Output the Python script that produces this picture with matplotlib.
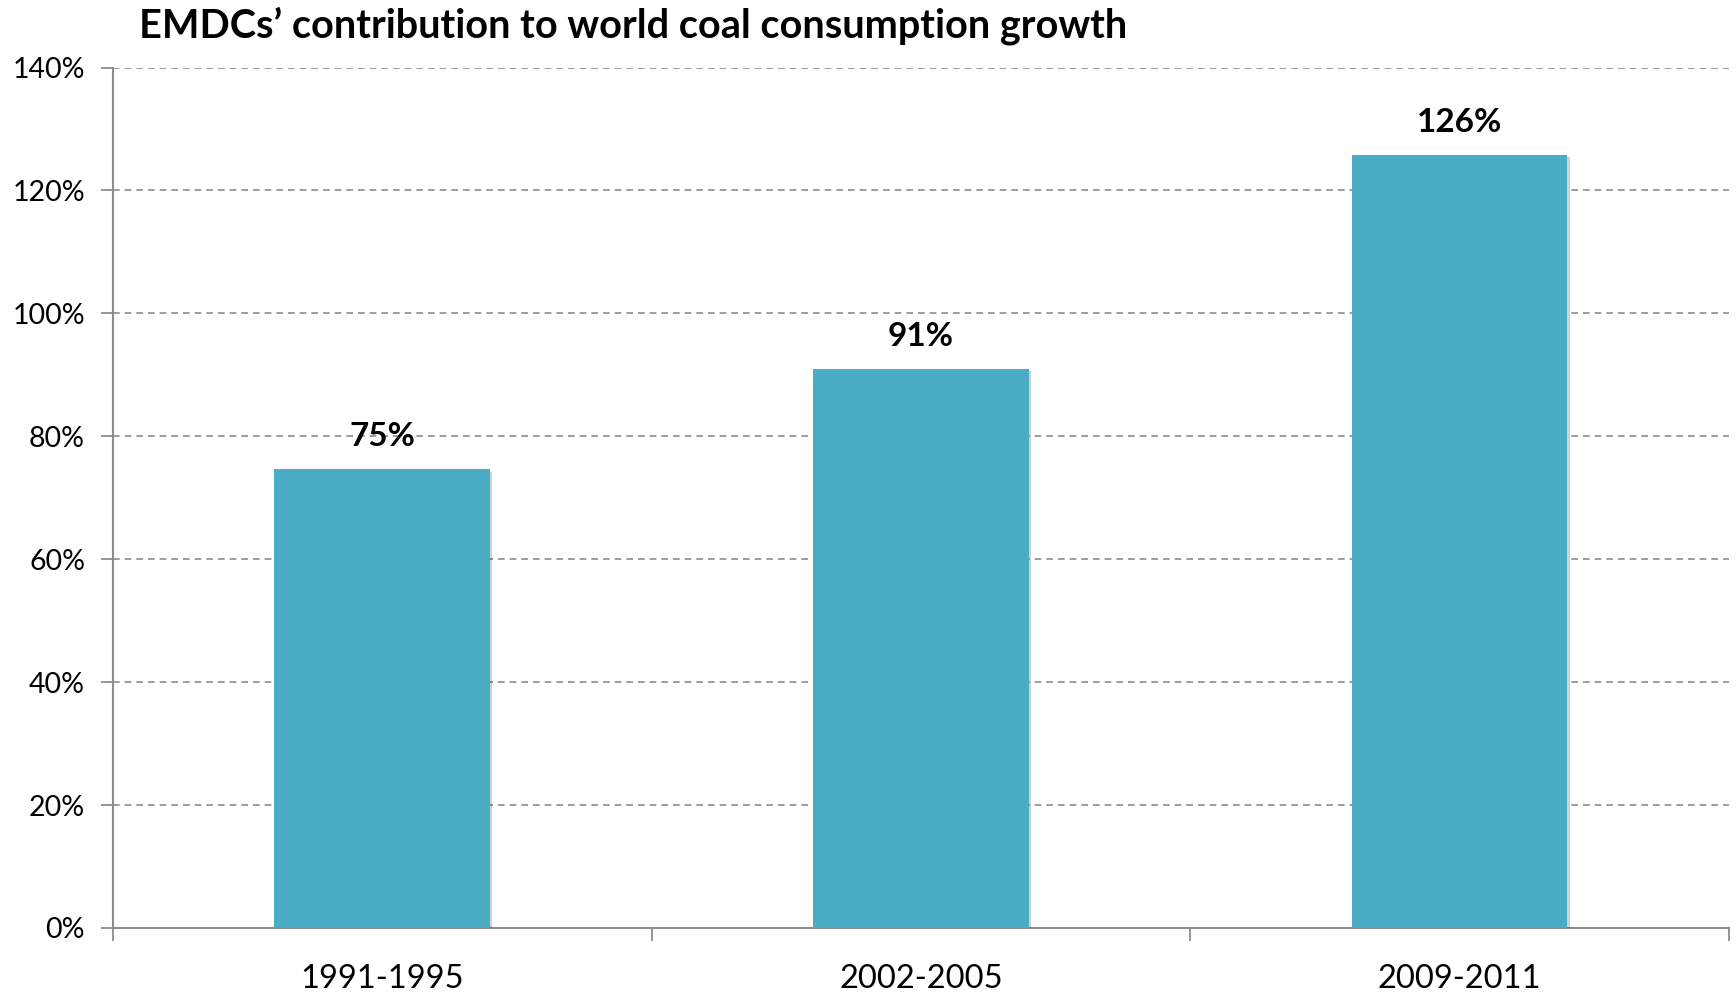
import numpy as np
import matplotlib.pyplot as plt
import matplotlib.patheffects as pe
from matplotlib.ticker import FuncFormatter, FixedLocator

plt.rcParams["font.family"] = ["Lato", "DejaVu Sans"]

periods = ["1991-1995", "2002-2005", "2009-2011"]
share = [74.6, 91.0, 125.7]  # EMDCs' share of world coal consumption growth, %
y_ticks = [0, 20, 40, 60, 80, 100, 120, 140]

bar_color = "#4BACC6"
axis_gray = "#8C8C8C"

fig = plt.figure(figsize=(17.36, 9.93), dpi=100)
ax = fig.add_axes([0.065, 0.0655, 0.931, 0.8665])

x = np.arange(len(periods))
bars = ax.bar(x, share, width=0.4, color=bar_color, zorder=3)
for b in bars:
    b.set_path_effects([pe.SimplePatchShadow(offset=(1.5, -1.5), shadow_rgbFace="#000000", alpha=0.18),
                        pe.Normal()])

for xi, v in zip(x, share):
    ax.annotate(f"{v:.0f}%", (xi, v), xytext=(0, 13), textcoords="offset points",
                ha="center", va="bottom", fontsize=24, fontweight="bold", zorder=4)

ax.set_xlim(-0.5, len(periods) - 0.5)
ax.set_ylim(0, 140)
ax.set_yticks(y_ticks)
ax.yaxis.set_major_formatter(FuncFormatter(lambda v, _: f"{v:.0f}%"))

# category labels centred, tick marks at the category boundaries
ax.set_xticks(x)
ax.set_xticklabels(periods, fontsize=23.5)
ax.xaxis.set_minor_locator(FixedLocator(np.arange(-0.5, len(periods), 1.0)))
ax.tick_params(axis="x", which="major", length=0, pad=26)
ax.tick_params(axis="x", which="minor", length=9, width=1.3, color=axis_gray, direction="out")
ax.tick_params(axis="y", length=9, width=1.3, color=axis_gray, labelsize=20.5, pad=11)

ax.yaxis.grid(True, linestyle=(0, (4, 3)), color=axis_gray, linewidth=1.2, zorder=0)
for side in ["top", "right"]:
    ax.spines[side].set_visible(False)
for side in ["left", "bottom"]:
    ax.spines[side].set_color(axis_gray)
    ax.spines[side].set_linewidth(1.5)

fig.text(0.080, 0.974, "EMDCs\u2019 contribution to world coal consumption growth",
         fontsize=28.5, fontweight="bold", ha="left", va="center")

fig.savefig("out.png", dpi=100)
